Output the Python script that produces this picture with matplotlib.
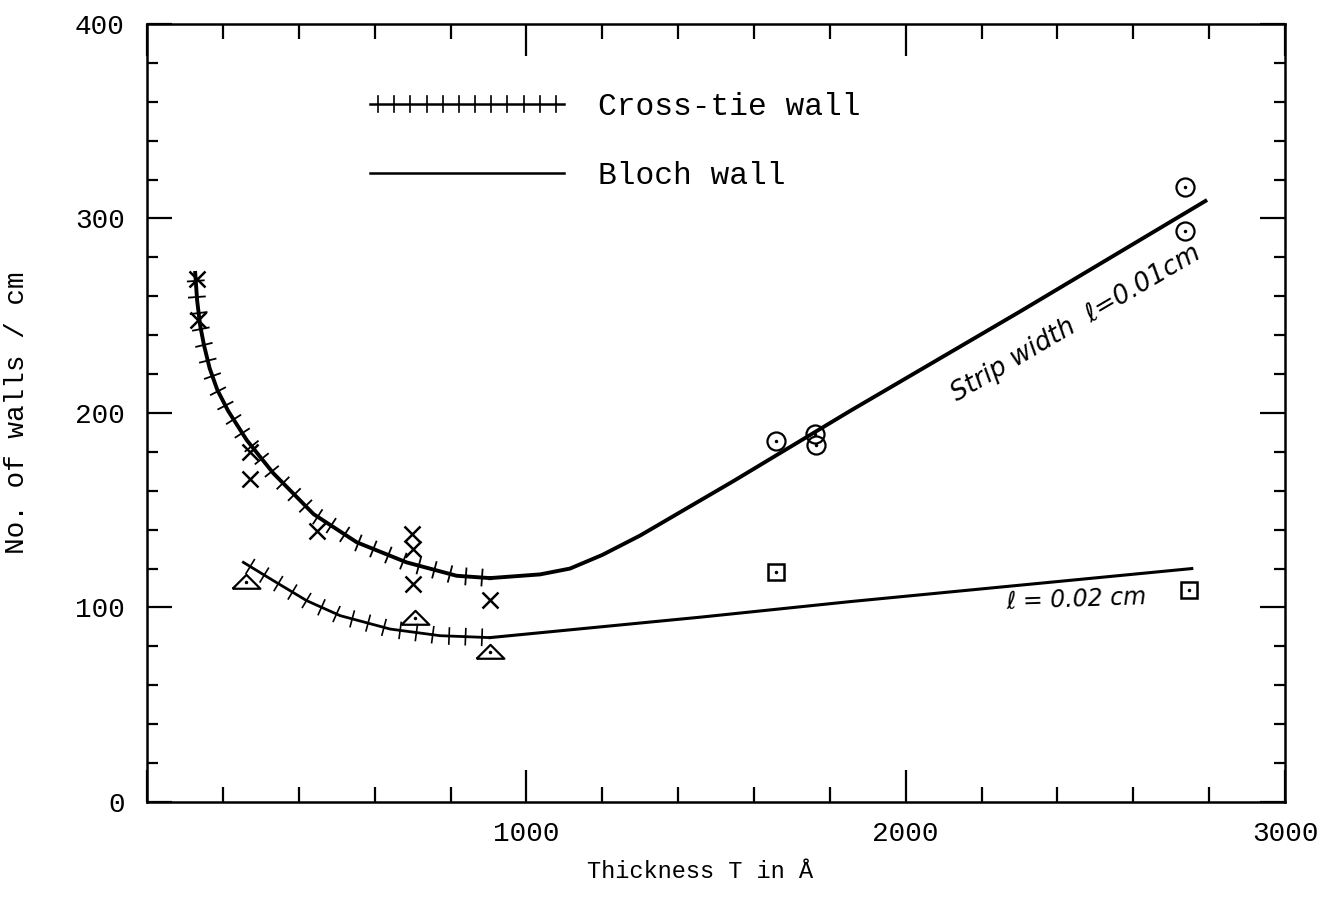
import matplotlib
matplotlib.use('Agg')
import matplotlib.pyplot as plt
import matplotlib.patheffects as pe
from matplotlib.lines import Line2D
from matplotlib.ticker import MultipleLocator

# cross-tie wall curves (hatched)
cross_upper_T = [127, 132, 140, 150, 165, 185, 214, 263, 333, 439, 553, 684, 816, 904]
cross_upper_N = [272, 258, 245, 235, 223, 212, 201, 186, 169, 148, 133.5, 123.2, 116.3, 115.1]
cross_lower_T = [254, 333, 421, 509, 641, 772, 904]
cross_lower_N = [123.2, 113.8, 103.5, 95.8, 88.9, 85.5, 84.5]

# Bloch wall curves
bloch_upper_T = [904, 1036, 1115, 1200, 1300, 1546, 1853, 2300, 2790]
bloch_upper_N = [115.1, 117, 120, 127, 137, 165, 201, 252, 309]
bloch_lower_T = [904, 1458, 1853, 2754]
bloch_lower_N = [84.5, 95, 103, 120]

# measured points
cross_T = [131, 134, 272, 272, 447, 698, 700, 700, 904]
cross_N = [268.7, 247.6, 179.8, 165.8, 139.5, 137.8, 130, 112, 103.8]
tri_T = [261, 707, 904]
tri_N = [112.9, 94.6, 77]
circ_T = [1658, 1761, 1764, 2735, 2735]
circ_N = [185.5, 189.2, 183.5, 316.2, 293.5]
sq_T = [1658, 2747]
sq_N = [118, 109]

mono = 'Liberation Mono'

fig = plt.figure(figsize=(13.27, 9.16), dpi=100)
ax = fig.add_axes([0.1108, 0.1245, 0.8576, 0.8493])

def ticked(lw):
    return [pe.TickedStroke(angle=90, spacing=11.5, length=0.5, linewidth=lw),
            pe.TickedStroke(angle=-90, spacing=11.5, length=0.5, linewidth=lw),
            pe.Normal()]

ax.plot(cross_upper_T, cross_upper_N, color='black', lw=2.8, path_effects=ticked(1.3))
ax.plot(cross_lower_T, cross_lower_N, color='black', lw=2.0, path_effects=ticked(1.2))
ax.plot(bloch_upper_T, bloch_upper_N, color='black', lw=2.8)
ax.plot(bloch_lower_T, bloch_lower_N, color='black', lw=2.2)

ax.plot(cross_T, cross_N, 'x', color='black', ms=12, mew=1.8)
tri = [(-1, -0.45), (1, -0.45), (0, 0.55), (-1, -0.45)]
ax.plot(tri_T, tri_N, ls='none', marker=tri, ms=20, mfc='none', mec='black', mew=1.6)
ax.plot(circ_T, circ_N, 'o', ms=13, mfc='none', mec='black', mew=1.6)
ax.plot(sq_T, sq_N, 's', ms=11, mfc='none', mec='black', mew=1.8)
ax.plot(tri_T + circ_T + sq_T, tri_N + circ_N + sq_N, '.', color='black', ms=3)

ax.set_xlim(0, 3000)
ax.set_ylim(0, 400)
ax.set_xticks([0, 1000, 2000, 3000], ['', '1000', '2000', '3000'])
ax.set_yticks([0, 100, 200, 300, 400])
ax.xaxis.set_minor_locator(MultipleLocator(200))
ax.yaxis.set_minor_locator(MultipleLocator(20))
ax.tick_params(which='both', direction='in', top=True, right=True, width=1.6, color='black')
ax.tick_params(axis='x', which='major', length=23, pad=14)
ax.tick_params(axis='x', which='minor', length=11)
ax.tick_params(axis='y', which='major', length=18, pad=16)
ax.tick_params(axis='y', which='minor', length=8)
for lab in ax.get_xticklabels() + ax.get_yticklabels():
    lab.set_fontfamily(mono)
    lab.set_fontsize(20)
for sp in ax.spines.values():
    sp.set_linewidth(1.8)

ax.set_xlabel('Thickness T in Å', fontfamily=mono, fontsize=17)
ax.xaxis.set_label_coords(0.486, -0.075)
ax.set_ylabel('No. of walls / cm', fontfamily=mono, fontsize=20)
ax.yaxis.set_label_coords(-0.103, 0.5)

handles = [Line2D([], [], color='black', lw=1.8, path_effects=ticked(1.2)),
           Line2D([], [], color='black', lw=1.8)]
leg = ax.legend(handles, ['Cross-tie wall', 'Bloch wall'], loc='upper left',
                bbox_to_anchor=(0.196, 0.913), frameon=False, borderpad=0,
                borderaxespad=0, handlelength=6.2, handletextpad=1.1,
                labelspacing=1.25, prop={'family': mono, 'size': 22.5})

ax.text(2450, 246, 'Strip width  ℓ=0.01cm', rotation=30.5, ha='center', va='center',
        fontsize=18.5, style='italic', family='DejaVu Sans')
ax.text(2450, 104, 'ℓ = 0.02 cm', rotation=2, ha='center', va='center',
        fontsize=17, style='italic', family='DejaVu Sans')

fig.savefig('out.png', dpi=100)
